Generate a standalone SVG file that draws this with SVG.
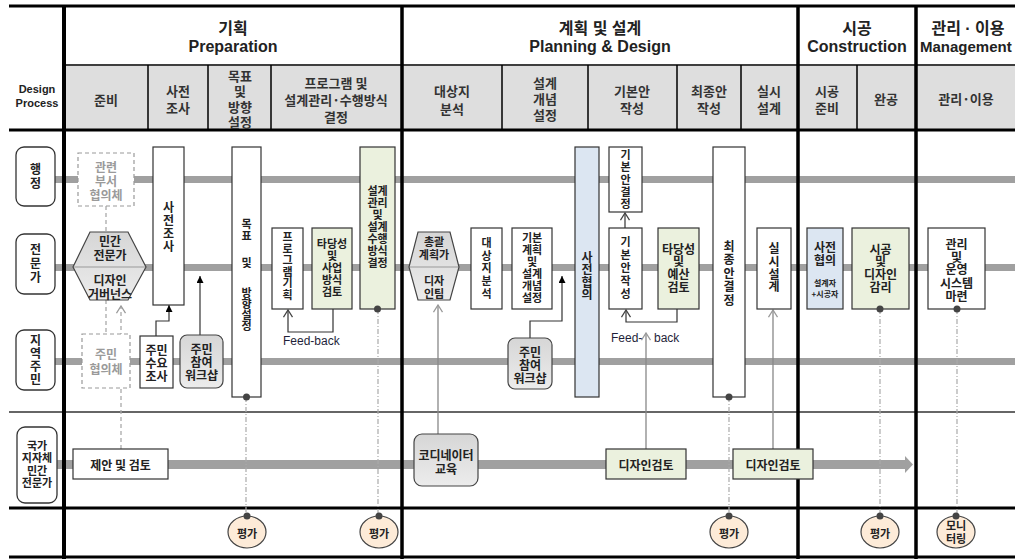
<svg xmlns="http://www.w3.org/2000/svg" width="1015" height="559" viewBox="0 0 1015 559">
<style>
.t{font-family:"Noto Sans CJK KR","Liberation Sans",sans-serif;font-size:11px;font-weight:700;fill:#222;text-anchor:middle;dominant-baseline:central}
.v{writing-mode:vertical-rl;text-orientation:upright}
.h{font-family:"Noto Sans CJK KR","Liberation Sans",sans-serif;font-size:13px;font-weight:700;fill:#333;text-anchor:middle;dominant-baseline:central}
.ph{font-family:"Liberation Sans","Noto Sans CJK KR",sans-serif;font-size:16px;font-weight:700;fill:#222;text-anchor:middle;dominant-baseline:central}
.gt{fill:#9a9a9a}
.sm{font-size:8px}
.fb{font-family:"Liberation Sans",sans-serif;font-size:12px;font-weight:400;fill:#1f1f3a;dominant-baseline:central}
.bx{fill:#fff;stroke:#333;stroke-width:1.2}
.gn{fill:#ebf1de;stroke:#333;stroke-width:1.2}
.bl{fill:#dce6f2;stroke:#333;stroke-width:1.2}
.gy{fill:url(#gg);stroke:#444;stroke-width:1.2}
.db{fill:#fff;stroke:#999;stroke-width:1.2;stroke-dasharray:4 3}
.lbl{fill:#fff;stroke:#333;stroke-width:1.3}
.lane{fill:#a0a0a0}
.ev{fill:#fdebd8;stroke:#444;stroke-width:1.2}
.dot{fill:#444}
.dd{stroke:#aaa;stroke-width:1.2;stroke-dasharray:5 2 1 2;fill:none}
.ds{stroke:#aaa;stroke-width:1.3;stroke-dasharray:4 3;fill:none}
.ln{stroke:#333;stroke-width:1.2;fill:none}
.lg{stroke:#888;stroke-width:1.3;fill:none}
.k{stroke:#000;fill:none}
</style>
<defs>
<linearGradient id="gg" x1="0" y1="0" x2="0" y2="1"><stop offset="0" stop-color="#d6d6d6"/><stop offset="1" stop-color="#ececec"/></linearGradient>
<marker id="af" viewBox="0 0 10 10" refX="10" refY="5" markerWidth="7" markerHeight="7" markerUnits="userSpaceOnUse" orient="auto"><path d="M0,0 L10,5 L0,10 z" fill="#000"/></marker>
<marker id="ao" viewBox="0 0 10 10" refX="9" refY="5" markerWidth="9" markerHeight="11" markerUnits="userSpaceOnUse" orient="auto"><path d="M1,0 L9,5 L1,10" fill="none" stroke="#444" stroke-width="1.4"/></marker>
<marker id="ag" viewBox="0 0 10 10" refX="9" refY="5" markerWidth="9" markerHeight="11" markerUnits="userSpaceOnUse" orient="auto"><path d="M1,0 L9,5 L1,10" fill="none" stroke="#999" stroke-width="1.4"/></marker>
</defs>

<g id="grid">
<rect x="66" y="66" width="949" height="63" fill="#dedede"/>
<rect x="64" y="412" width="951" height="96" fill="#fff"/>
<path class="k" stroke-width="1.5" d="M64,65 H1015 M148,65 V130 M208,65 V130 M271,65 V130 M502,65 V130 M588,65 V130 M677,65 V130 M741,65 V130 M857,65 V130"/>
</g>

<g id="lanes">
<rect class="lane" x="55" y="176" width="960" height="7"/>
<rect class="lane" x="55" y="264" width="960" height="7"/>
<rect class="lane" x="55" y="358" width="960" height="7"/>
<rect class="lane" x="57" y="460" width="848" height="9"/>
<polygon class="lane" points="905,456 913,464.5 905,473"/>
</g>

<g id="frame">
<path class="k" stroke-width="3" d="M9,6 H1015 M9,130 H1015 M9,508 H1015 M9,557 H1015"/>
<path stroke="#666" stroke-width="2" d="M9,412 H1015"/>
<path class="k" stroke-width="4" d="M64,6 V559"/>
<path class="k" stroke-width="3.5" d="M402,6 V559 M798,6 V559 M916,6 V559"/>
</g>

<g id="headers">
<text class="t" x="37" y="89" style="font-family:'Liberation Sans',sans-serif;font-size:11px">Design</text>
<text class="t" x="37" y="103" style="font-family:'Liberation Sans',sans-serif;font-size:11px">Process</text>
<text class="ph" x="233" y="28">기획</text>
<text class="ph" x="233" y="46">Preparation</text>
<text class="ph" x="600" y="28">계획 및 설계</text>
<text class="ph" x="600" y="46">Planning &amp; Design</text>
<text class="ph" x="857" y="28">시공</text>
<text class="ph" x="857" y="46">Construction</text>
<text class="ph" x="968" y="28">관리 · 이용</text>
<text class="ph" x="920" y="46" style="text-anchor:start;font-size:15px">Management</text>
<text class="h" x="106" y="99">준비</text>
<text class="h" x="178" y="90">사전</text><text class="h" x="178" y="107">조사</text>
<text class="h" x="240" y="75">목표</text><text class="h" x="240" y="90">및</text><text class="h" x="240" y="106">방향</text><text class="h" x="240" y="121">설정</text>
<text class="h" x="336" y="82">프로그램 및</text><text class="h" x="336" y="99">설계관리·수행방식</text><text class="h" x="336" y="116">결정</text>
<text class="h" x="452" y="90">대상지</text><text class="h" x="452" y="108">분석</text>
<text class="h" x="545" y="82">설계</text><text class="h" x="545" y="98">개념</text><text class="h" x="545" y="114">설정</text>
<text class="h" x="632" y="90">기본안</text><text class="h" x="632" y="107">작성</text>
<text class="h" x="709" y="90">최종안</text><text class="h" x="709" y="107">작성</text>
<text class="h" x="769" y="90">실시</text><text class="h" x="769" y="107">설계</text>
<text class="h" x="827" y="90">시공</text><text class="h" x="827" y="107">준비</text>
<text class="h" x="886" y="98">완공</text>
<text class="h" x="966" y="98">관리·이용</text>
</g>

<g id="connectors">
<path class="ds" d="M106,206 V232 M106,300 V334"/>
<path class="ds" d="M121,449 V306" marker-end="url(#ag)"/>
<path class="ln" d="M156,336 V321 H169 V305" stroke="#222" marker-end="url(#af)"/>
<path class="ln" d="M200,335 V276" stroke="#444" marker-end="url(#af)"/>
<path class="ln" d="M333,309 V332 H288 V310" marker-end="url(#ao)"/>
<path class="lg" d="M438,434 V305" marker-end="url(#ag)"/>
<path class="ln" d="M530,338 V321 H562 V276" stroke="#444" marker-end="url(#af)"/>
<path class="ln" d="M625,228 V213" marker-end="url(#ao)"/>
<path class="ln" d="M677,309 V322 H626 V310" marker-end="url(#ao)"/>
<path class="lg" d="M646,449 V333" marker-end="url(#ag)"/>
<path class="lg" d="M773,449 V310" marker-end="url(#ag)"/>
<path class="dd" d="M246,397 V516 M378,309 V516 M729,397 V516 M880,309 V516 M957,309 V516"/>
<text class="fb" x="283" y="341">Feed-back</text>
<text class="fb" x="611" y="338">Feed-</text>
<text class="fb" x="654" y="338">back</text>
</g>

<g id="lbl-admin"><rect class="lbl" x="16" y="147" width="39" height="59" rx="8"/><text class="t v" x="35.5" y="177" style="font-size:12px;letter-spacing:2px">행정</text></g>
<g id="lbl-expert"><rect class="lbl" x="16" y="234" width="39" height="60" rx="8"/><text class="t v" x="35.5" y="264" style="font-size:12px;letter-spacing:2px">전문가</text></g>
<g id="lbl-resident"><rect class="lbl" x="16" y="330" width="39" height="60" rx="8"/><text class="t v" x="35.5" y="360" style="font-size:12px;letter-spacing:1px">지역주민</text></g>
<g id="lbl-national"><rect class="lbl" x="17" y="427" width="40" height="76" rx="8"/><text class="t"><tspan x="37" y="445">국가</tspan><tspan x="37" y="457">지자체</tspan><tspan x="37" y="470">민간</tspan><tspan x="37" y="482">전문가</tspan></text></g>

<g id="n-dept"><rect class="db" x="78" y="153" width="56" height="53"/><text class="t gt" style="font-size:12px"><tspan x="106" y="166">관련</tspan><tspan x="106" y="180">부서</tspan><tspan x="106" y="194">협의체</tspan></text></g>
<g id="n-governance"><polygon class="gy" points="73,267 90,232 128,232 146,267 128,300 90,300"/><path d="M74,267 H145" stroke="#999" stroke-width="1"/><text class="t" style="font-size:12px"><tspan x="110" y="240">민간</tspan><tspan x="110" y="254">전문가</tspan><tspan x="110" y="279">디자인</tspan><tspan x="110" y="293">거버넌스</tspan></text></g>
<g id="n-residentcouncil"><rect class="db" x="82" y="334" width="48" height="54"/><text class="t gt" style="font-size:12px"><tspan x="106" y="353">주민</tspan><tspan x="106" y="368">협의체</tspan></text></g>
<g id="n-presurvey"><rect class="bx" x="153" y="147" width="31" height="158"/><text class="t v" x="168.5" y="227" style="font-size:12px;letter-spacing:1px">사전조사</text></g>
<g id="n-demand"><rect class="bx" x="140" y="336" width="33" height="52"/><text class="t" style="font-size:12px"><tspan x="156.5" y="349">주민</tspan><tspan x="156.5" y="362">수요</tspan><tspan x="156.5" y="375">조사</tspan></text></g>
<g id="n-workshop1"><rect class="gy" x="180" y="335" width="43" height="53" rx="7"/><text class="t" style="font-size:12px"><tspan x="201.5" y="348">주민</tspan><tspan x="201.5" y="361">참여</tspan><tspan x="201.5" y="374">워크샵</tspan></text></g>
<g id="n-goal"><rect class="bx" x="232" y="147" width="29" height="250"/><text class="t v" x="246.5" y="230" style="letter-spacing:0.5px">목표</text><text class="t v" x="246.5" y="263">및</text><text class="t v" x="246.5" y="309">방향설정</text><circle class="dot" cx="246.5" cy="397" r="3.5"/></g>
<g id="n-program"><rect class="bx" x="272" y="228" width="31" height="81"/><text class="t v" x="287.5" y="266" style="letter-spacing:0.5px">프로그램기획</text></g>
<g id="n-feasibility1"><rect class="gn" x="312" y="228" width="40" height="81"/><text class="t"><tspan x="332" y="243">타당성</tspan><tspan x="332" y="255">및</tspan><tspan x="332" y="267">사업</tspan><tspan x="332" y="279">방식</tspan><tspan x="332" y="291">검토</tspan></text></g>
<g id="n-designmgmt"><rect class="gn" x="360" y="147" width="35" height="162"/><text class="t"><tspan x="377.5" y="190">설계</tspan><tspan x="377.5" y="202">관리</tspan><tspan x="377.5" y="214">및</tspan><tspan x="377.5" y="226">설계</tspan><tspan x="377.5" y="238">수행</tspan><tspan x="377.5" y="250">방식</tspan><tspan x="377.5" y="262">결정</tspan></text><circle class="dot" cx="377.5" cy="309" r="3.5"/></g>
<g id="n-planner"><polygon class="gy" points="409,267 418,232 450,232 459,267 450,300 418,300"/><path d="M410,267 H458" stroke="#999" stroke-width="1"/><text class="t"><tspan x="434" y="241">총괄</tspan><tspan x="434" y="254">계획가</tspan><tspan x="434" y="280">디자</tspan><tspan x="434" y="293">인팀</tspan></text></g>
<g id="n-site"><rect class="bx" x="471" y="228" width="31" height="81"/><text class="t v" x="486.5" y="269" style="letter-spacing:1.7px">대상지분석</text></g>
<g id="n-concept"><rect class="bx" x="512" y="228" width="40" height="81"/><text class="t"><tspan x="532" y="237">기본</tspan><tspan x="532" y="249">계획</tspan><tspan x="532" y="261">및</tspan><tspan x="532" y="273">설계</tspan><tspan x="532" y="285">개념</tspan><tspan x="532" y="297">설정</tspan></text></g>
<g id="n-workshop2"><rect class="gy" x="508" y="338" width="44" height="51" rx="7"/><text class="t" style="font-size:12px"><tspan x="530" y="351">주민</tspan><tspan x="530" y="364">참여</tspan><tspan x="530" y="377">워크샵</tspan></text></g>
<g id="n-precons1"><rect class="bl" x="575" y="147" width="24" height="250"/><text class="t v" x="587" y="276" style="font-size:12px;letter-spacing:0.5px">사전협의</text></g>
<g id="n-basicdecision"><rect class="bx" x="609" y="147" width="33" height="65"/><text class="t v" x="625.5" y="180" style="letter-spacing:1.2px">기본안결정</text></g>
<g id="n-basicdraft"><rect class="bx" x="609" y="228" width="33" height="81"/><text class="t v" x="625.5" y="269" style="letter-spacing:2px">기본안작성</text></g>
<g id="n-feasibility2"><rect class="gn" x="658" y="228" width="41" height="81"/><text class="t" style="font-size:12px"><tspan x="678.5" y="248">타당성</tspan><tspan x="678.5" y="260">및</tspan><tspan x="678.5" y="273">예산</tspan><tspan x="678.5" y="286">검토</tspan></text></g>
<g id="n-final"><rect class="bx" x="713" y="147" width="32" height="250"/><text class="t v" x="729" y="274" style="font-size:12px;letter-spacing:1.5px">최종안결정</text><circle class="dot" cx="729" cy="397" r="3.5"/></g>
<g id="n-detail"><rect class="bx" x="757" y="228" width="34" height="81"/><text class="t v" x="774" y="268" style="font-size:12px;letter-spacing:0.7px">실시설계</text></g>
<g id="n-precons2"><rect class="bl" x="807" y="228" width="36" height="81"/><text class="t" style="font-size:12px"><tspan x="825" y="246">사전</tspan><tspan x="825" y="259">협의</tspan></text><text class="t sm"><tspan x="825" y="282">설계자</tspan><tspan x="825" y="293">+시공자</tspan></text></g>
<g id="n-supervision"><rect class="gn" x="852" y="228" width="57" height="81"/><text class="t" style="font-size:12px"><tspan x="880.5" y="248">시공</tspan><tspan x="880.5" y="260">및</tspan><tspan x="880.5" y="273">디자인</tspan><tspan x="880.5" y="286">감리</tspan></text><circle class="dot" cx="880" cy="309" r="3.5"/></g>
<g id="n-operation"><rect class="bx" x="928" y="228" width="57" height="81"/><text class="t" style="font-size:12px"><tspan x="956.5" y="243">관리</tspan><tspan x="956.5" y="256">및</tspan><tspan x="956.5" y="268">운영</tspan><tspan x="956.5" y="282">시스템</tspan><tspan x="956.5" y="295">마련</tspan></text><circle class="dot" cx="957" cy="309" r="3.5"/></g>

<g id="n-proposal"><rect class="bx" x="73" y="449" width="95" height="30"/><text class="t" x="120.5" y="464" style="font-size:12px">제안 및 검토</text></g>
<g id="n-coordinator"><rect class="gy" x="414" y="434" width="64" height="52" rx="8"/><text class="t" style="font-size:12px"><tspan x="446" y="454">코디네이터</tspan><tspan x="446" y="468">교육</tspan></text></g>
<g id="n-review1"><rect class="gn" x="606" y="449" width="80" height="30"/><text class="t" x="646" y="464" style="font-size:12px">디자인검토</text></g>
<g id="n-review2"><rect class="gn" x="733" y="449" width="80" height="30"/><text class="t" x="773" y="464" style="font-size:12px">디자인검토</text></g>

<g id="ev1"><ellipse class="ev" cx="247" cy="532" rx="19" ry="16"/><circle class="dot" cx="247" cy="516" r="3.5"/><text class="t" x="247" y="533">평가</text></g>
<g id="ev2"><ellipse class="ev" cx="379" cy="532" rx="19" ry="16"/><circle class="dot" cx="379" cy="516" r="3.5"/><text class="t" x="379" y="533">평가</text></g>
<g id="ev3"><ellipse class="ev" cx="729" cy="532" rx="19" ry="16"/><circle class="dot" cx="729" cy="516" r="3.5"/><text class="t" x="729" y="533">평가</text></g>
<g id="ev4"><ellipse class="ev" cx="880" cy="532" rx="19" ry="16"/><circle class="dot" cx="880" cy="516" r="3.5"/><text class="t" x="880" y="533">평가</text></g>
<g id="ev5"><ellipse class="ev" cx="956" cy="532" rx="19" ry="16"/><circle class="dot" cx="956" cy="516" r="3.5"/><text class="t"><tspan x="956" y="525">모니</tspan><tspan x="956" y="538">터링</tspan></text></g>
</svg>
